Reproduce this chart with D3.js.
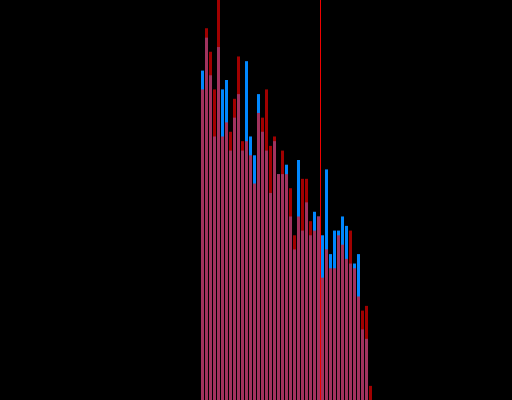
<!DOCTYPE html>
<html>
<head>
<meta charset="utf-8">
<script src="https://cdn.jsdelivr.net/npm/d3@7"></script>
<style>
  html, body { margin: 0; padding: 0; background: #000; }
  svg { display: block; }
</style>
</head>
<body>
<script>
// Bin indices (43 bins)
const bins = d3.range(43);
// Counts per bin, series A (blue) and series B (red)
const blueCounts = [70, 77, 69, 56, 75, 66, 68, 53, 60, 65, 53, 72, 56, 52, 65, 57, 53, 44, 55, 48, 48,
                    50, 39, 32, 51, 36, 42, 35, 40, 39, 35, 49, 31, 36, 36, 39, 37, 29, 29, 31, 15, 13, 0];
const redCounts  = [66, 79, 74, 66, 88, 56, 59, 57, 64, 73, 55, 55, 52, 46, 61, 60, 66, 54, 56, 48, 53,
                    48, 45, 35, 39, 47, 47, 38, 36, 39, 26, 32, 28, 28, 35, 33, 30, 36, 28, 22, 19, 20, 3];
// Reference marker position (in bin units)
const markerValue = [29.875];
const yMax = 85;

const W = 512, H = 400;
const svg = d3.select("body").append("svg").attr("width", W).attr("height", H);
svg.append("rect").attr("width", W).attr("height", H).attr("fill", "#000");

const x = d3.scaleLinear().domain([0, bins.length]).range([201, 201 + 4 * bins.length]);
const y = d3.scaleLinear().domain([0, yMax]).range([H, 0]);
const barW = x(1) - x(0) - 1;

svg.append("g").selectAll("rect").data(bins).join("rect")
  .attr("x", i => x(i))
  .attr("width", barW)
  .attr("y", i => y(blueCounts[i]))
  .attr("height", i => H - y(blueCounts[i]))
  .attr("fill", "#0088ff");

svg.append("g").selectAll("rect").data(bins).join("rect")
  .attr("x", i => x(i))
  .attr("width", barW)
  .attr("y", i => y(redCounts[i]))
  .attr("height", i => H - y(redCounts[i]))
  .attr("fill", "#ff0000")
  .attr("fill-opacity", 0.63);

svg.append("g").selectAll("line").data(markerValue).join("line")
  .attr("x1", d => x(d)).attr("x2", d => x(d))
  .attr("y1", 0).attr("y2", H)
  .attr("stroke", "#ee0000")
  .attr("stroke-width", 1);
</script>
</body>
</html>
